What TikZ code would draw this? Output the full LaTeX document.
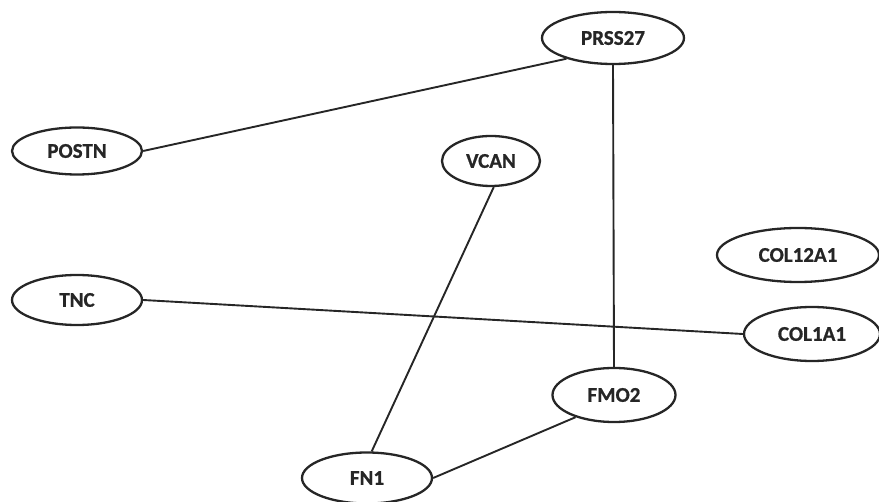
\documentclass[tikz,border=0pt]{standalone}
\usepackage{fontspec}
\setmainfont{Carlito}[BoldFeatures={FakeBold=0.8}]
\usetikzlibrary{shapes.geometric}
\tikzset{
  gene/.style={ellipse, draw=black!85, line width=2.3pt, inner sep=0pt,
    font=\fontsize{21}{21}\selectfont\bfseries, text=black!85},
  link/.style={draw=black!85, line width=1.9pt}
}
\begin{document}
\begin{tikzpicture}[x=1pt,y=-1pt]
\useasboundingbox (0,0) rectangle (879,502);
\node[gene, minimum width=142, minimum height=52] (prss) at (613,38) {PRSS27};
\node[gene, minimum width=130, minimum height=47] (postn) at (77,151) {POSTN};
\node[gene, minimum width=98, minimum height=50] (vcan) at (491,161) {VCAN};
\node[gene, minimum width=162, minimum height=54] (col12) at (798,255) {COL12A1};
\node[gene, minimum width=136, minimum height=54] (col1) at (812,334) {COL1A1};
\node[gene, minimum width=130, minimum height=50] (tnc) at (77,300) {TNC};
\node[gene, minimum width=123, minimum height=54] (fmo) at (614,395) {FMO2};
\node[gene, minimum width=130, minimum height=51] (fn) at (367,478) {FN1};
\draw[link] (postn.east) -- (prss.-156);
\draw[link] (prss.-90) -- (fmo.90);
\draw[link] (vcan.-84) -- (fn.80);
\draw[link] (tnc.east) -- (col1.west);
\draw[link] (fn.east) -- (fmo.-150);
\end{tikzpicture}
\end{document}
